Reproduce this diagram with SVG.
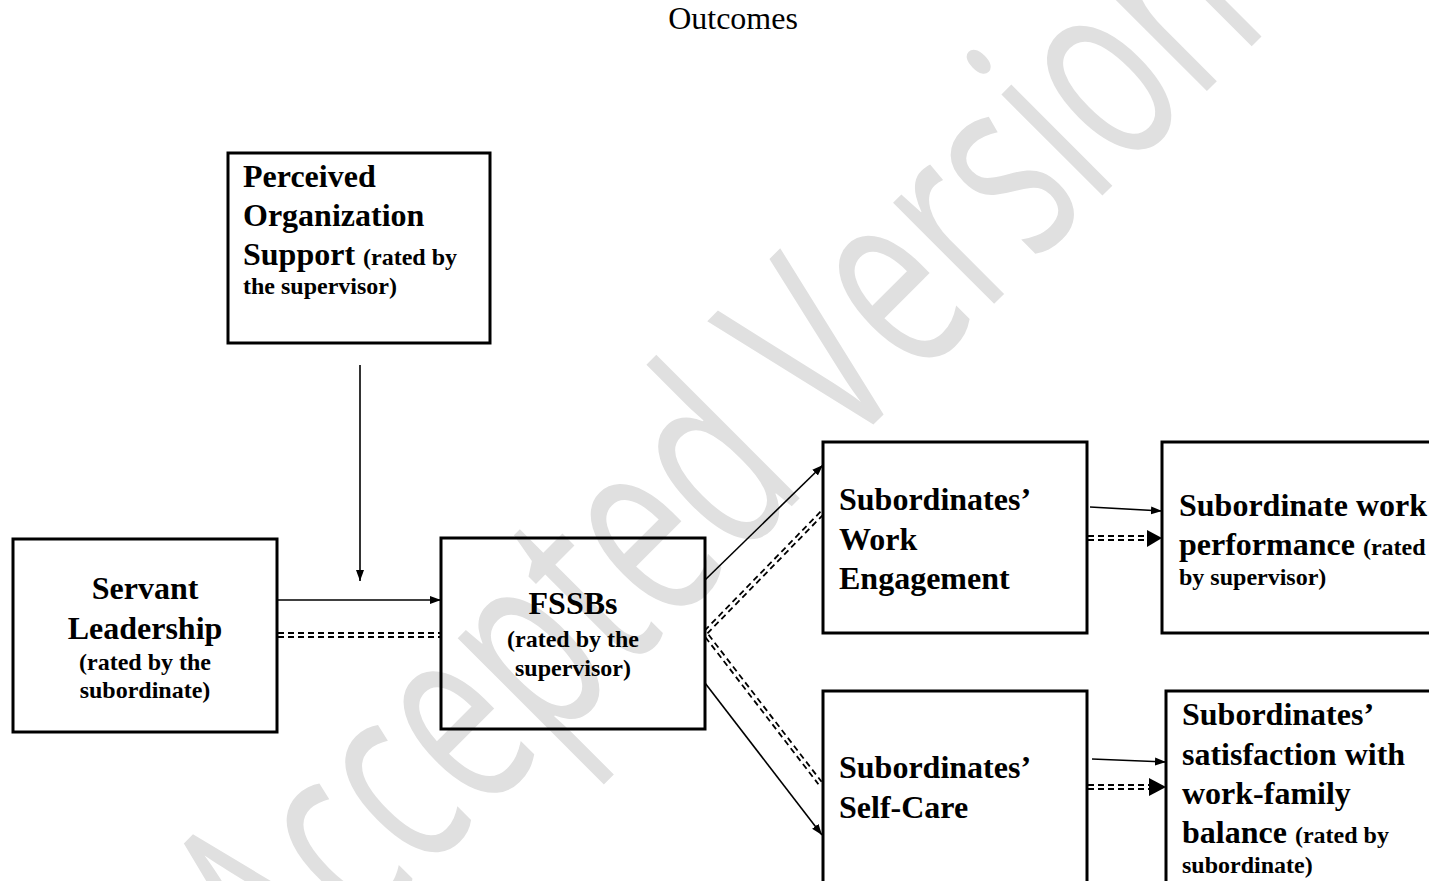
<svg xmlns="http://www.w3.org/2000/svg" width="1429" height="881" viewBox="0 0 1429 881">
<style>
.box{fill:none;stroke:#000;stroke-width:3}
.t{font-family:"Liberation Serif","Times New Roman",serif;font-weight:bold;font-size:32px;fill:#000}
.s{font-size:24px}
.ln{stroke:#000;stroke-width:1.6;fill:none}
.dl{stroke:#000;stroke-width:1.8;fill:none;stroke-dasharray:6 4}
.wm{font-family:"Open Sans","Noto Sans",sans-serif;font-weight:400;font-size:267px;fill:#e0e0e0}
</style>
<defs>
<marker id="ah" markerWidth="12" markerHeight="10" refX="11" refY="5" orient="auto" markerUnits="userSpaceOnUse">
<path d="M0,1 L11,5 L0,9 Z" fill="#000"/>
</marker>
</defs>
<rect width="1429" height="881" fill="#fff"/>
<text class="wm" transform="translate(285,1013) rotate(-45) scale(0.648,1)">Accepted Version</text>
<text x="733" y="29" text-anchor="middle" style="font-family:'Liberation Serif','Times New Roman',serif;font-size:32px;fill:#000">Outcomes</text>

<g id="pos">
<rect class="box" x="228" y="153" width="262" height="190"/>
<text class="t" x="243" y="187">Perceived</text>
<text class="t" x="243" y="226">Organization</text>
<text class="t" x="243" y="265">Support <tspan class="s">(rated by</tspan></text>
<text class="t s" x="243" y="294">the supervisor)</text>
</g>

<g id="servant">
<rect class="box" x="13" y="539" width="264" height="193"/>
<text class="t" x="145" y="599" text-anchor="middle">Servant</text>
<text class="t" x="145" y="639" text-anchor="middle">Leadership</text>
<text class="t s" x="145" y="670" text-anchor="middle">(rated by the</text>
<text class="t s" x="145" y="698" text-anchor="middle">subordinate)</text>
</g>

<g id="fssb">
<rect class="box" x="441" y="538" width="264" height="191"/>
<text class="t" x="573" y="614" text-anchor="middle">FSSBs</text>
<text class="t s" x="573" y="647" text-anchor="middle">(rated by the</text>
<text class="t s" x="573" y="676" text-anchor="middle">supervisor)</text>
</g>

<g id="engagement">
<rect class="box" x="823" y="442" width="264" height="191"/>
<text class="t" x="839" y="510">Subordinates’</text>
<text class="t" x="839" y="550">Work</text>
<text class="t" x="839" y="589">Engagement</text>
</g>

<g id="performance">
<rect class="box" x="1162" y="442" width="280" height="191"/>
<text class="t" x="1179" y="516">Subordinate work</text>
<text class="t" x="1179" y="555">performance <tspan class="s">(rated</tspan></text>
<text class="t s" x="1179" y="585">by supervisor)</text>
</g>

<g id="selfcare">
<rect class="box" x="823" y="691" width="264" height="200"/>
<text class="t" x="839" y="778">Subordinates’</text>
<text class="t" x="839" y="818">Self-Care</text>
</g>

<g id="satisfaction">
<rect class="box" x="1166" y="691" width="280" height="200"/>
<text class="t" x="1182" y="725">Subordinates’</text>
<text class="t" x="1182" y="765">satisfaction with</text>
<text class="t" x="1182" y="804">work-family</text>
<text class="t" x="1182" y="843">balance <tspan class="s">(rated by</tspan></text>
<text class="t s" x="1182" y="873">subordinate)</text>
</g>

<g id="connectors">
<line class="ln" x1="360" y1="365" x2="360" y2="581" marker-end="url(#ah)"/>
<line class="ln" x1="278" y1="600" x2="441" y2="600" marker-end="url(#ah)"/>
<line class="dl" x1="278" y1="633" x2="441" y2="633"/>
<line class="dl" x1="278" y1="637" x2="441" y2="637"/>

<line class="ln" x1="705" y1="580" x2="823" y2="465" marker-end="url(#ah)"/>
<line class="dl" x1="704.6" y1="630.6" x2="821.6" y2="510.6"/>
<line class="dl" x1="707.4" y1="633.4" x2="824.4" y2="513.4"/>

<line class="ln" x1="705" y1="683" x2="822" y2="835" marker-end="url(#ah)"/>
<line class="dl" x1="705.4" y1="637.2" x2="818.4" y2="784.2"/>
<line class="dl" x1="708.6" y1="634.8" x2="821.6" y2="781.8"/>

<line class="ln" x1="1090" y1="507" x2="1162" y2="511" marker-end="url(#ah)"/>
<line class="dl" x1="1088" y1="536" x2="1148" y2="536"/>
<line class="dl" x1="1088" y1="540" x2="1148" y2="540"/>
<path d="M1147,530 L1162,538 L1147,547 Z" fill="#000"/>

<line class="ln" x1="1092" y1="759" x2="1166" y2="762" marker-end="url(#ah)"/>
<line class="dl" x1="1088" y1="785" x2="1150" y2="785"/>
<line class="dl" x1="1088" y1="789" x2="1150" y2="789"/>
<path d="M1149,778 L1166,787 L1149,796 Z" fill="#000"/>
</g>
</svg>
